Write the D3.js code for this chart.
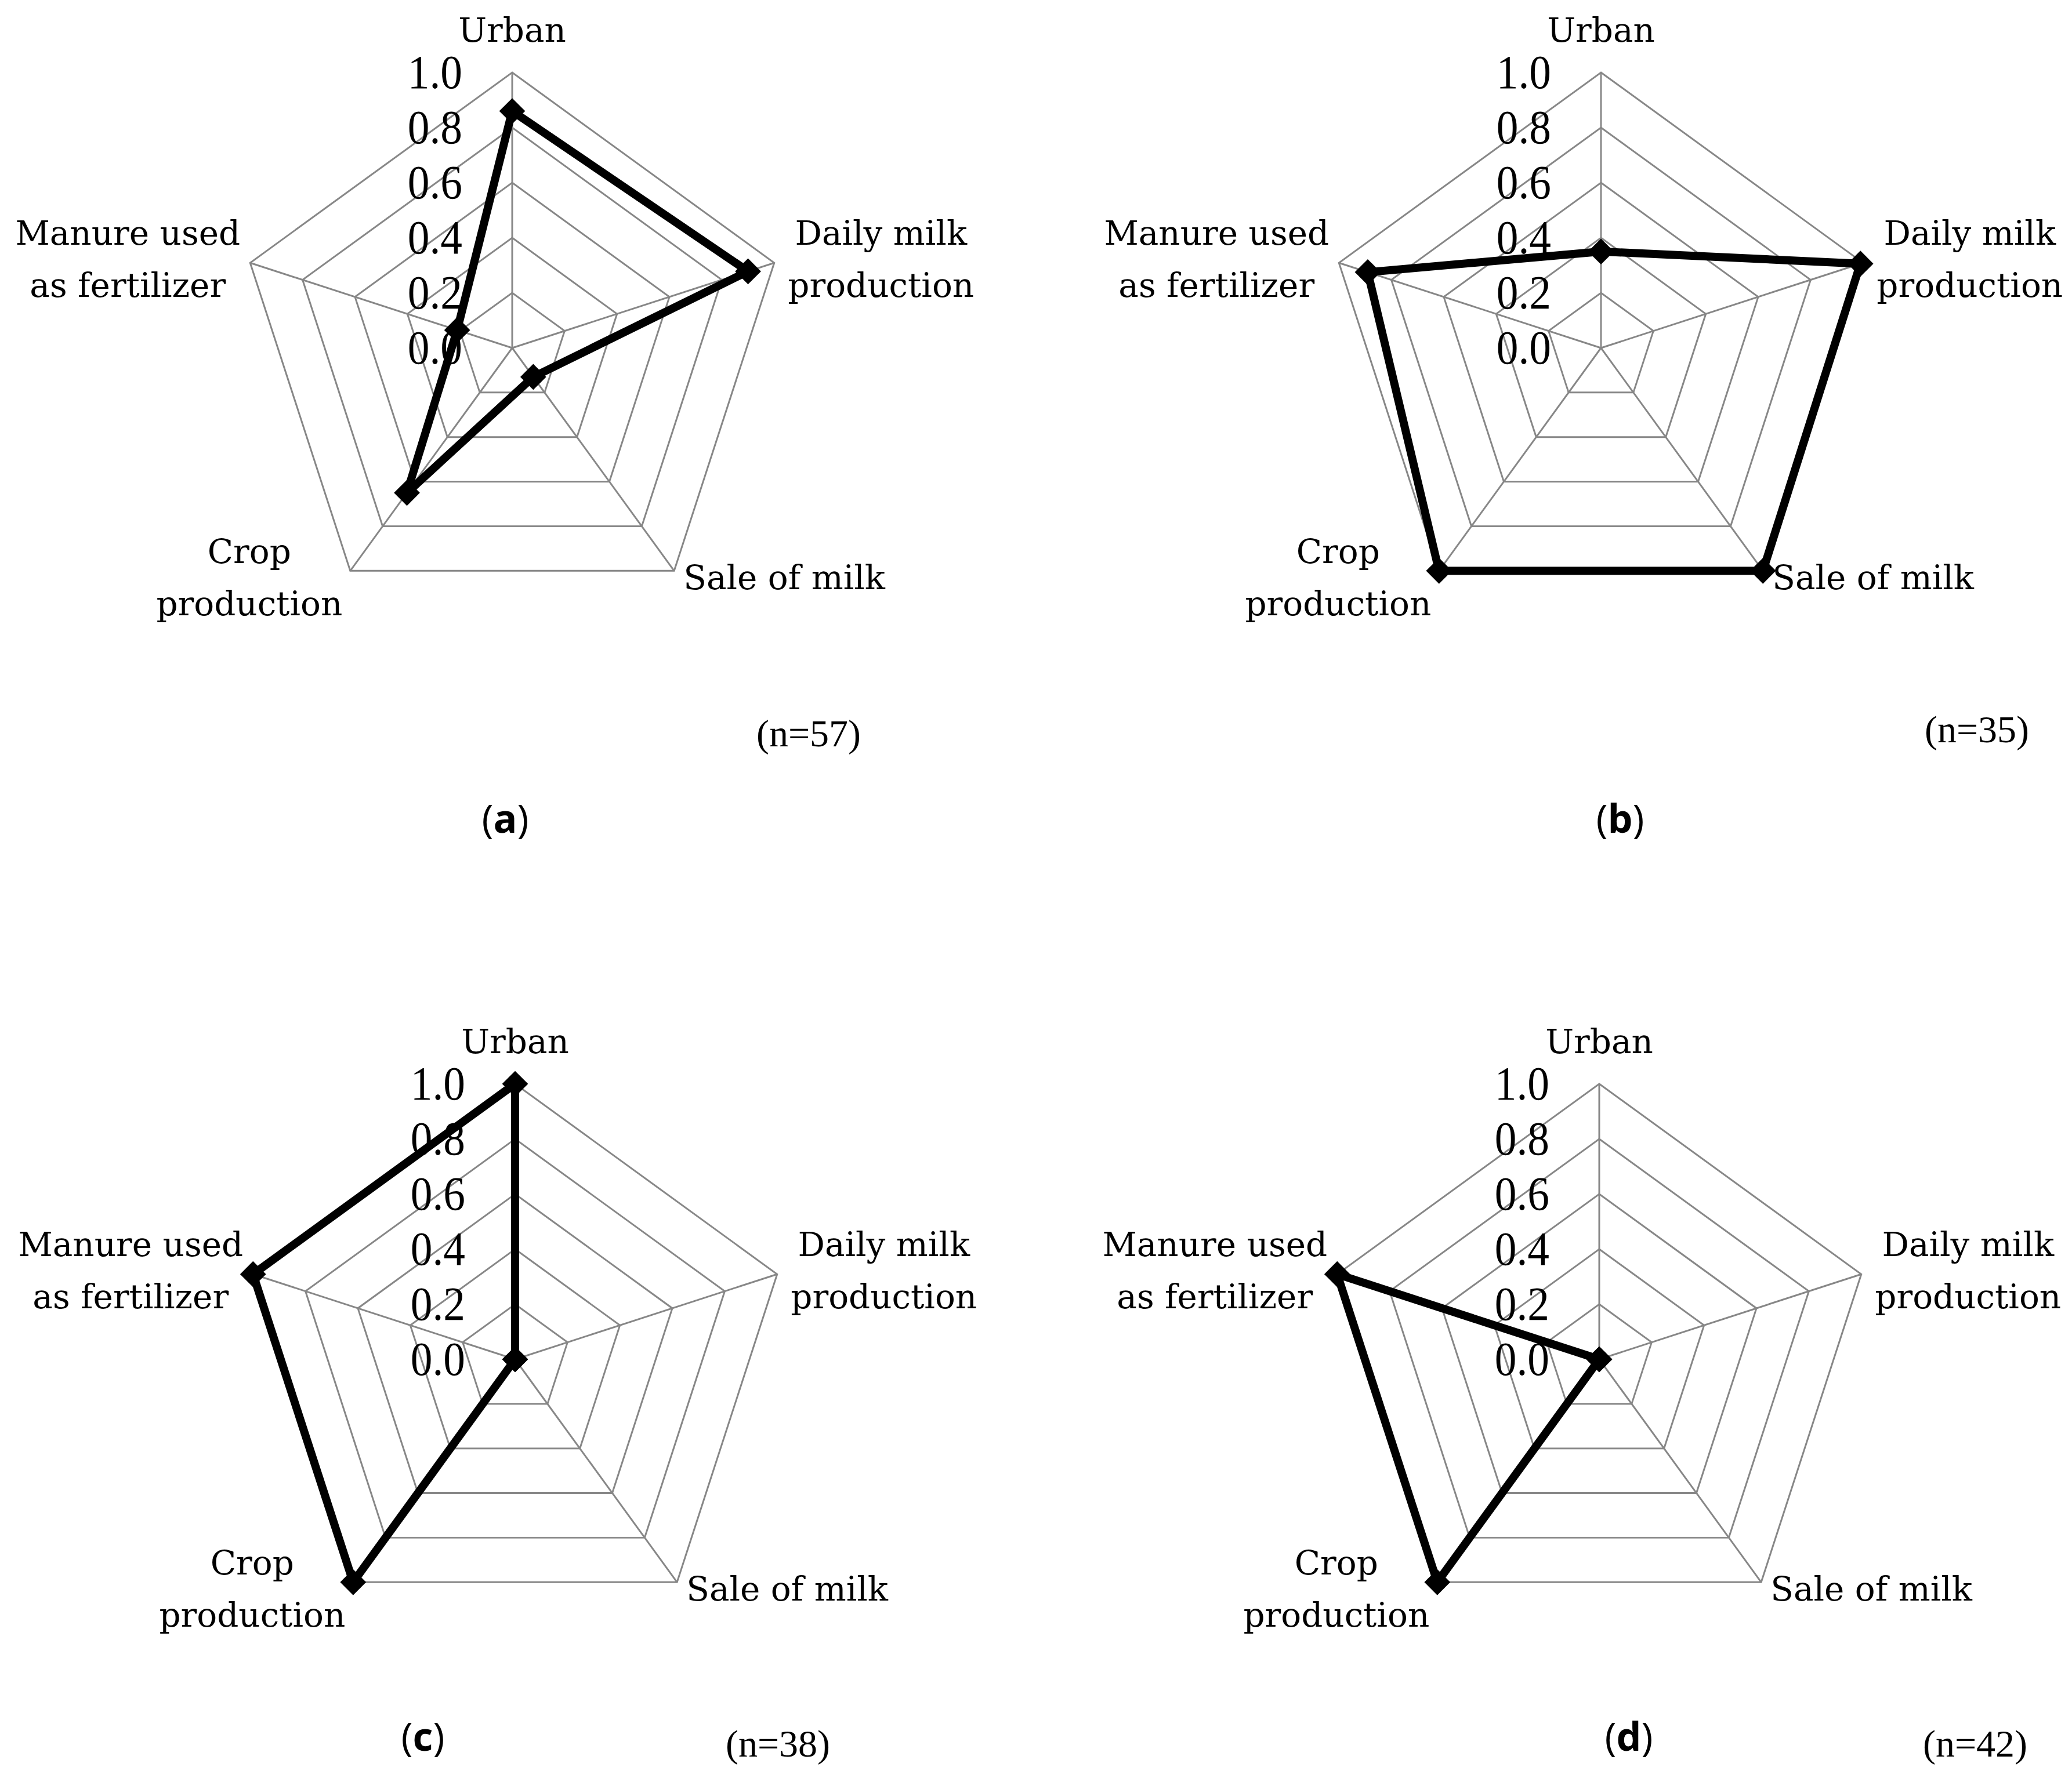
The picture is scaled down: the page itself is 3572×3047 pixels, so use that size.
<!DOCTYPE html>
<html><head><meta charset="utf-8">
<script src="https://cdn.jsdelivr.net/npm/d3@7"></script>
<style>html,body{margin:0;padding:0;background:#fff}</style>
</head><body>
<svg id="chart" width="3572" height="3047"></svg>
<script>
// ---- data ----
const categories = ["Urban", "Daily milk production", "Sale of milk", "Crop production", "Manure used as fertilizer"];
const categoryLines = [["Urban"], ["Daily milk", "production"], ["Sale of milk"], ["Crop", "production"], ["Manure used", "as fertilizer"]];
const panelLetters = ["a", "b", "c", "d"];
const sampleSizes = ["(n=57)", "(n=35)", "(n=38)", "(n=42)"];
const valuesA = [0.86, 0.90, 0.13, 0.65, 0.21];
const valuesB = [0.35, 0.99, 1.00, 1.00, 0.89];
const valuesC = [1.00, 0.00, 0.00, 1.00, 1.00];
const valuesD = [0.00, 0.00, 0.00, 1.00, 1.00];
const tickValues = [0.0, 0.2, 0.4, 0.6, 0.8, 1.0];
const tickLabels = ["0.0", "0.2", "0.4", "0.6", "0.8", "1.0"];

// ---- layout (positions only) ----
const seriesList = [valuesA, valuesB, valuesC, valuesD];
const layout = [
  {cx: 883,  cy: 600,  letter: [871, 1436],  n: [1394, 1287]},
  {cx: 2760, cy: 600,  letter: [2793, 1436], n: [3408, 1280]},
  {cx: 888,  cy: 2344, letter: [729, 3019],  n: [1341, 3029]},
  {cx: 2757, cy: 2344, letter: [2808, 3019], n: [3405, 3029]}
];
// label placement relative to the outer vertex of each axis
const labelPlace = [
  {dx: 0,    anchor: "middle", dy: [-53]},
  {dx: 184,  anchor: "middle", dy: [-31, 59]},
  {dx: 16,   anchor: "start",  dy: [32]},
  {dx: -174, anchor: "middle", dy: [-13, 77]},
  {dx: -211, anchor: "middle", dy: [-31, 59]}
];

const svg = d3.select("#chart");
const r = d3.scaleLinear().domain([0, 1]).range([0, 475]);
const angle = d3.scaleLinear().domain([0, categories.length]).range([0, 2 * Math.PI]);
const pt = (i, v) => [r(v) * Math.sin(angle(i)), -r(v) * Math.cos(angle(i))];
const closedLine = d3.line().curve(d3.curveLinearClosed);

const serif = "'DejaVu Serif', serif";
const gridColor = "#878787";

seriesList.forEach((vals, p) => {
  const L = layout[p];
  const g = svg.append("g").attr("transform", `translate(${L.cx},${L.cy})`);

  // rings
  g.selectAll("path.ring").data(tickValues.filter(t => t > 0)).join("path")
    .attr("class", "ring")
    .attr("d", t => closedLine(categories.map((c, i) => pt(i, t))))
    .attr("fill", "none").attr("stroke", gridColor).attr("stroke-width", 3);

  // spokes
  g.selectAll("line.spoke").data(categories).join("line")
    .attr("class", "spoke")
    .attr("x1", 0).attr("y1", 0)
    .attr("x2", (c, i) => pt(i, 1)[0]).attr("y2", (c, i) => pt(i, 1)[1])
    .attr("stroke", gridColor).attr("stroke-width", 3);

  // tick labels
  g.selectAll("g.tick").data(tickValues).join("g")
    .attr("class", "tick")
    .attr("transform", t => `translate(-86,${-r(t) + 27})`)
    .append("text")
    .attr("transform", "scale(0.92,1)")
    .attr("text-anchor", "end")
    .attr("font-family", "'Liberation Serif', serif")
    .attr("font-size", 82)
    .attr("fill", "#000")
    .text((t, i) => tickLabels[i]);

  // category labels
  categories.forEach((c, i) => {
    const [vx, vy] = pt(i, 1);
    const lp = labelPlace[i];
    const t = g.append("text")
      .attr("font-family", serif).attr("font-size", 58)
      .attr("text-anchor", lp.anchor).attr("fill", "#000");
    categoryLines[i].forEach((line, k) => {
      t.append("tspan").attr("x", vx + lp.dx).attr("y", vy + lp.dy[k]).text(line);
    });
  });

  // data polygon
  g.append("path")
    .attr("d", closedLine(vals.map((v, i) => pt(i, v))))
    .attr("fill", "none").attr("stroke", "#000")
    .attr("stroke-width", 14).attr("stroke-linejoin", "round");

  // markers
  g.selectAll("path.marker").data(vals).join("path")
    .attr("class", "marker")
    .attr("d", d3.symbol().type(d3.symbolSquare).size(1000))
    .attr("transform", (v, i) => `translate(${pt(i, v)[0]},${pt(i, v)[1]}) rotate(45)`)
    .attr("fill", "#000");

  // panel letter
  const lt = svg.append("text")
    .attr("x", L.letter[0]).attr("y", L.letter[1])
    .attr("text-anchor", "middle")
    .attr("font-family", "'Open Sans', sans-serif").attr("font-size", 68).attr("fill", "#000");
  lt.append("tspan").text("(");
  lt.append("tspan").attr("font-weight", "bold").text(panelLetters[p]);
  lt.append("tspan").text(")");

  // sample size
  svg.append("text")
    .attr("x", L.n[0]).attr("y", L.n[1])
    .attr("text-anchor", "middle")
    .attr("font-family", "'Liberation Serif', serif").attr("font-size", 66).attr("fill", "#000")
    .text(sampleSizes[p]);
});
</script>
</body></html>
